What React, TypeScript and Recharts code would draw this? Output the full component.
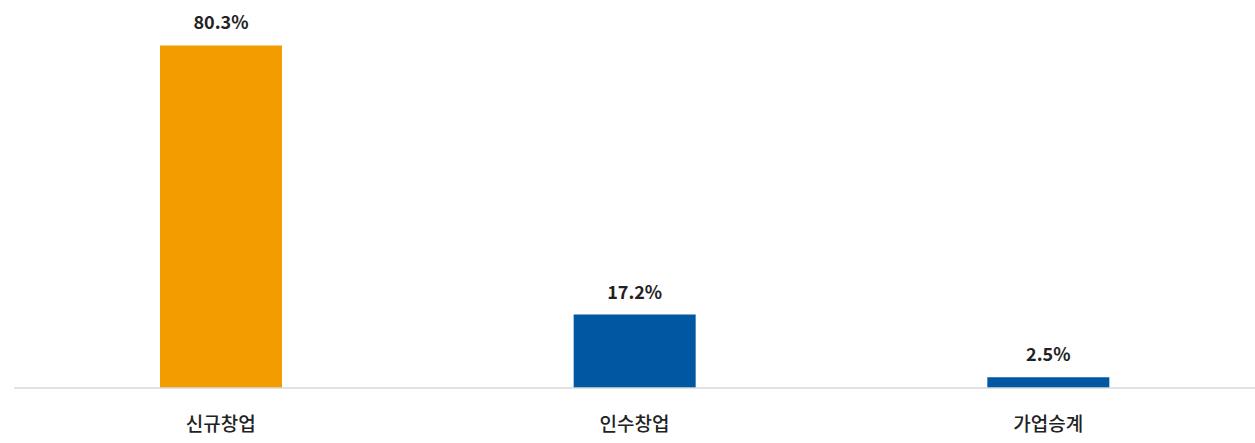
import React from 'react';
import { BarChart, Bar, Cell, XAxis, YAxis, LabelList } from 'recharts';

const categories = ['신규창업', '인수창업', '가업승계'];
const shares = [80.3, 17.2, 2.5];
const barColors = ['#F39C00', '#0058A3', '#0058A3'];

const data = categories.map((name, i) => ({ name, value: shares[i] }));

const FONT = '"Noto Sans CJK KR", "Noto Sans", sans-serif';

export default function App() {
  return (
    <div style={{ position: 'absolute', left: 0, top: 0, background: '#fff' }}>
      <BarChart
        width={1255}
        height={443}
        data={data}
        margin={{ top: 4, right: 0, left: 14, bottom: 0 }}
        barCategoryGap={0}
      >
        <YAxis hide domain={[0, 90]} />
        <XAxis
          dataKey="name"
          height={55}
          axisLine={{ stroke: '#d9d9d9', strokeWidth: 1.5 }}
          tickLine={false}
          tickMargin={24}
          tick={{ fill: '#222', fontSize: 19, fontWeight: 500, fontFamily: FONT }}
        />
        <Bar dataKey="value" barSize={122} isAnimationActive={false}>
          {data.map((_, idx) => (
            <Cell key={idx} fill={barColors[idx]} />
          ))}
          <LabelList
            dataKey="value"
            position="top"
            offset={16}
            formatter={(v: number) => `${v}%`}
            style={{ fill: '#222', fontSize: 18, fontWeight: 700, fontFamily: FONT }}
          />
        </Bar>
      </BarChart>
    </div>
  );
}
